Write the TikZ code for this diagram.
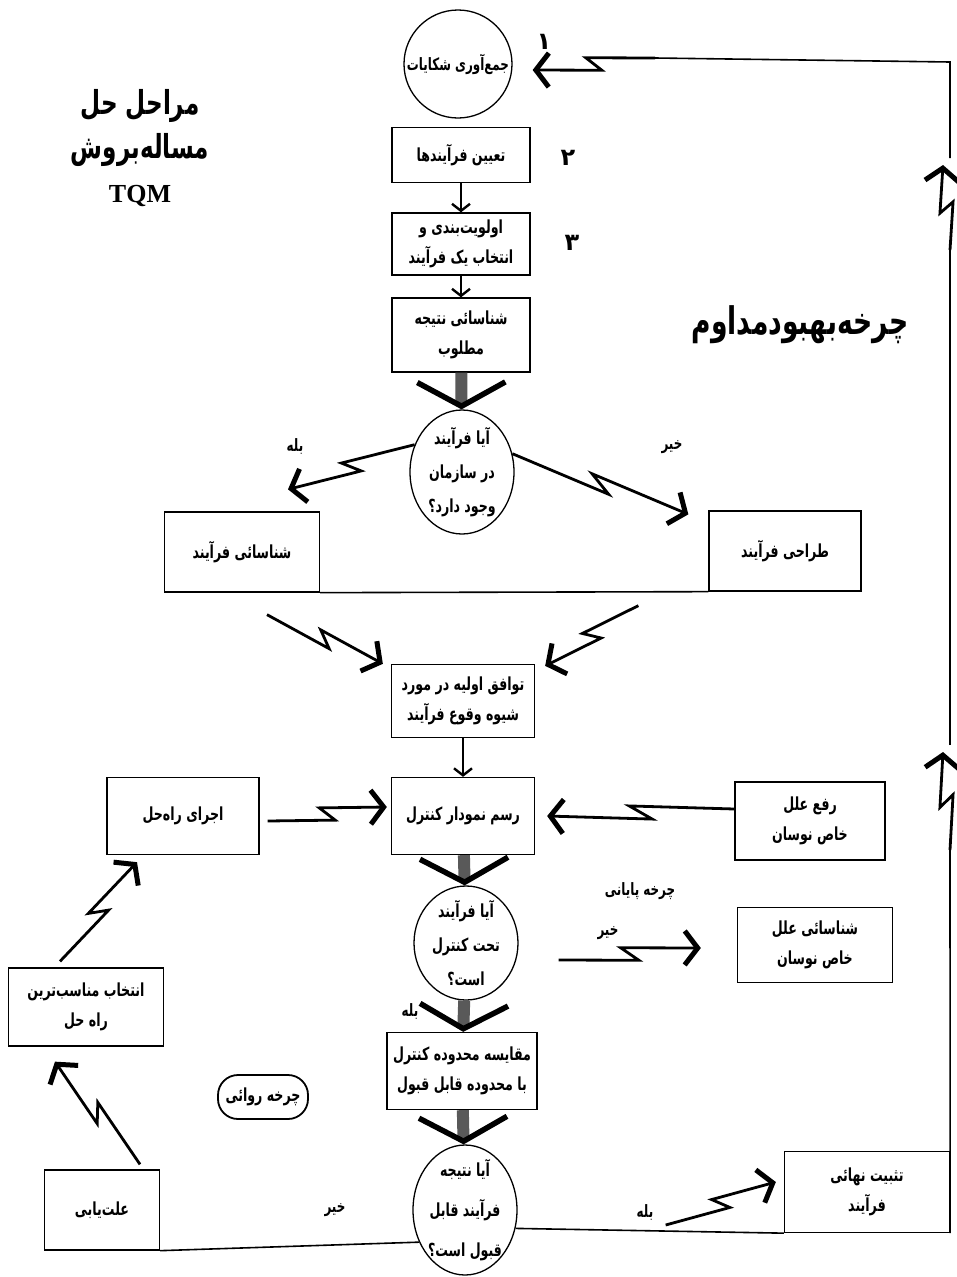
\documentclass[tikz,border=0pt]{standalone}
\usepackage{fontspec}
\usepackage{tikz}
\usetikzlibrary{positioning}
\usetikzlibrary{arrows.meta}
\usetikzlibrary{shapes.geometric}
\usetikzlibrary{calc}
\newfontfamily\fa[Script=Arabic, FakeStretch=0.7]{DejaVu Sans}
\newfontfamily\fatitle[Script=Arabic]{DejaVu Sans}
\newfontfamily\tms{Liberation Serif}
\TeXXeTstate=1
\newcommand{\rl}[1]{\beginR#1\endR}

\begin{document}
\begin{tikzpicture}[x=1pt, y=-1pt, >=Stealth]

\tikzset{%
    every box/.style = {
        draw,
        line width=1.3pt,
        minimum width=138pt,
        minimum height=55pt,
        align=center,
        font=\fa\bfseries\fontsize{18}{30}\selectfont
    },
    every ask/.style = {
        ellipse,
        draw,
        line width=1.3pt,
        minimum width=104pt,
        minimum height=124pt,
        inner sep=-16pt,
        align=center,
        font=\fa\bfseries\fontsize{18}{34}\selectfont
    },
    every round/.style = {
        circle,
        draw,
        line width=1.3pt,
        minimum size=108pt,
        inner sep=-4pt,
        font=\fa\bfseries\fontsize{17}{18}\selectfont
    },
    tag text/.style = {font=\fa\bfseries\fontsize{17}{18}\selectfont},
    plain line/.style = {line width=1.6pt},
    small arrow/.style = {line width=1.6pt, -{Straight Barb[length=7pt,width=18pt,line width=2.4pt]}},
    fat arrow/.style = {line width=12pt, draw=black!65,
        -{Straight Barb[length=24pt,width=88pt,line width=5.5pt,color=black]}},
    bolt/.style = {line width=2.8pt, -{Straight Barb[length=13pt,width=34pt,line width=5pt]},
        to path={-- ($(\tikztostart)!.56!(\tikztotarget)!7pt!-90:(\tikztotarget)$)
                 -- ($(\tikztostart)!.44!(\tikztotarget)!7pt!90:(\tikztotarget)$)
                 -- (\tikztotarget) \tikztonodes}}
}

\fill [white] (0,0) rectangle (957,1277);
\useasboundingbox (0,0) rectangle (957,1277);

% titles
\node [font=\fa\bfseries\fontsize{33}{44}\selectfont, align=center] (title) at (140,148)
  {\rl{مراحل حل}\\\rl{مساله^^^^200cبروش}\\{\tms\bfseries\fontsize{26}{44}\selectfont TQM}};
\node [font=\fa\bfseries\fontsize{38}{40}\selectfont] (cycle) at (800,325)
  {\rl{چرخه^^^^200cبهبودمداوم}};

\foreach \n/\x/\y [count=\i] in {۱/544/42, ۲/568/158, ۳/572/243}
  \node [font=\fatitle\bfseries\fontsize{24}{26}\selectfont] (num-\i) at (\x,\y) {\n};

% main column
\node [every round] (collect) at (458,64) {\rl{جمع^^^^200cآوری شکایات}};
\node [every box] (define) at (461,155) {\rl{تعیین فرآیندها}};
\node [every box, minimum height=62pt] (select) at (461,244)
  {\rl{اولویت^^^^200cبندی و}\\\rl{انتخاب یک فرآیند}};
\node [every box, minimum height=74pt] (target) at (461,335)
  {\rl{شناسائی نتیجه}\\\rl{مطلوب}};
\node [every ask] (exists) at (462,472)
  {\rl{آیا فرآیند}\\\rl{در سازمان}\\\rl{وجود دارد؟}};
\node [every box, minimum width=155pt, minimum height=80pt] (identify) at (242,552)
  {\rl{شناسائی فرآیند}};
\node [every box, minimum width=152pt, minimum height=80pt] (design) at (785,551)
  {\rl{طراحی فرآیند}};
\node [every box, minimum width=143pt, minimum height=73pt] (agree) at (463,701)
  {\rl{توافق اولیه در مورد}\\\rl{شیوه وقوع فرآیند}};
\node [every box, minimum width=143pt, minimum height=77pt] (chart) at (463,816)
  {\rl{رسم نمودار کنترل}};
\node [every box, minimum width=152pt, minimum height=77pt] (apply) at (183,816)
  {\rl{اجرای راه^^^^200cحل}};
\node [every box, minimum width=150pt, minimum height=78pt] (remove) at (810,821)
  {\rl{رفع علل}\\\rl{خاص نوسان}};
\node [every ask, minimum height=114pt] (control) at (466,943)
  {\rl{آیا فرآیند}\\\rl{تحت کنترل}\\\rl{است؟}};
\node [every box, minimum width=155pt, minimum height=75pt] (special) at (815,945)
  {\rl{شناسائی علل}\\\rl{خاص نوسان}};
\node [every box, minimum width=150pt, minimum height=77pt] (compare) at (462,1071)
  {\rl{مقایسه محدوده کنترل}\\\rl{با محدوده قابل قبول}};
\node [every box, line width=1.8pt, rounded corners=20pt, minimum width=90pt, minimum height=44pt] (loop) at (263,1097)
  {\rl{چرخه روائی}};
\node [every box, minimum width=155pt, minimum height=78pt] (best) at (86,1007)
  {\rl{انتخاب مناسب^^^^200cترین}\\\rl{راه حل}};
\node [every box, minimum width=115pt, minimum height=80pt] (cause) at (102,1210)
  {\rl{علت^^^^200cیابی}};
\node [every ask, minimum height=130pt, font=\fa\bfseries\fontsize{18}{40}\selectfont] (accept) at (465,1210)
  {\rl{آیا نتیجه}\\\rl{فرآیند قابل}\\\rl{قبول است؟}};
\node [every box, minimum width=165pt, minimum height=81pt] (fix) at (867,1192)
  {\rl{تثبیت نهائی}\\\rl{فرآیند}};

\foreach \t/\x/\y [count=\i] in {بله/295/447, خیر/672/447, چرخه پایانی/640/891,
    خیر/608/933, بله/410/1012, خیر/335/1210, بله/645/1212}
  \node [tag text] (tag-\i) at (\x,\y) {\rl{\t}};

% return line on the right
\coordinate (rise-1) at (950,850);
\coordinate (rise-2) at (943,752);
\coordinate (rise-3) at (950,745);
\coordinate (rise-4) at (950,250);
\coordinate (rise-5) at (943,165);
\coordinate (rise-6) at (950,158);
\coordinate (ne) at (950,62);
\coordinate (tl) at (655,58);

% straight arrows
\draw [small arrow] (define) -- (select);
\draw [small arrow] (select) -- (target);
\draw [small arrow] (agree) -- (chart);

\draw [fat arrow] (target) -- (exists);
\draw [fat arrow] (chart) -- (control);
\draw [fat arrow] (control) -- (compare);
\draw [fat arrow] (compare) -- (accept);

% zigzag arrows
\draw [bolt] (exists.150) to ([shift={(46,-22)}]identify.north);
\draw [bolt] (exists.20) to ([shift={(-20,4)}]design.north west);
\draw [bolt] ([shift={(25,22)}]identify.south) to ([shift={(-8,0)}]agree.north west);
\draw [bolt] ([shift={(-70,14)}]design.south west) to ([shift={(10,2)}]agree.north east);
\draw [bolt] ([shift={(8,5)}]apply.east) to ([shift={(-4,-9)}]chart.west);
\draw [bolt] ([shift={(0,-12)}]remove.west) to ([shift={(12,0)}]chart.east);
\draw [bolt] ([shift={(40,17)}]control.east) to ([shift={(-36,3)}]special.west);
\draw [bolt] ([shift={(-26,-6)}]best.north) to ([shift={(-46,7)}]apply.south);
\draw [bolt] ([shift={(38,-5)}]cause.north) to ([shift={(-31,15)}]best.south);
\draw [bolt] ([shift={(148,15)}]accept.east) to ([shift={(-8,-10)}]fix.west);

% plain lines
\draw [plain line] (identify.south east) -- (design.south west);
\draw [plain line] (cause.south east) -- (accept.215);
\draw [plain line] (accept.340) -- (fix.south west);

\draw [plain line] (fix.south east) -- (rise-1);
\draw [bolt] (rise-1) to (rise-2);
\draw [plain line] (rise-3) -- (rise-4);
\draw [bolt] (rise-4) to (rise-5);
\draw [plain line] (rise-6) -- (ne) -- (tl);
\draw [bolt] (tl) to ([shift={(20,6)}]collect.east);

\end{tikzpicture}
\end{document}
